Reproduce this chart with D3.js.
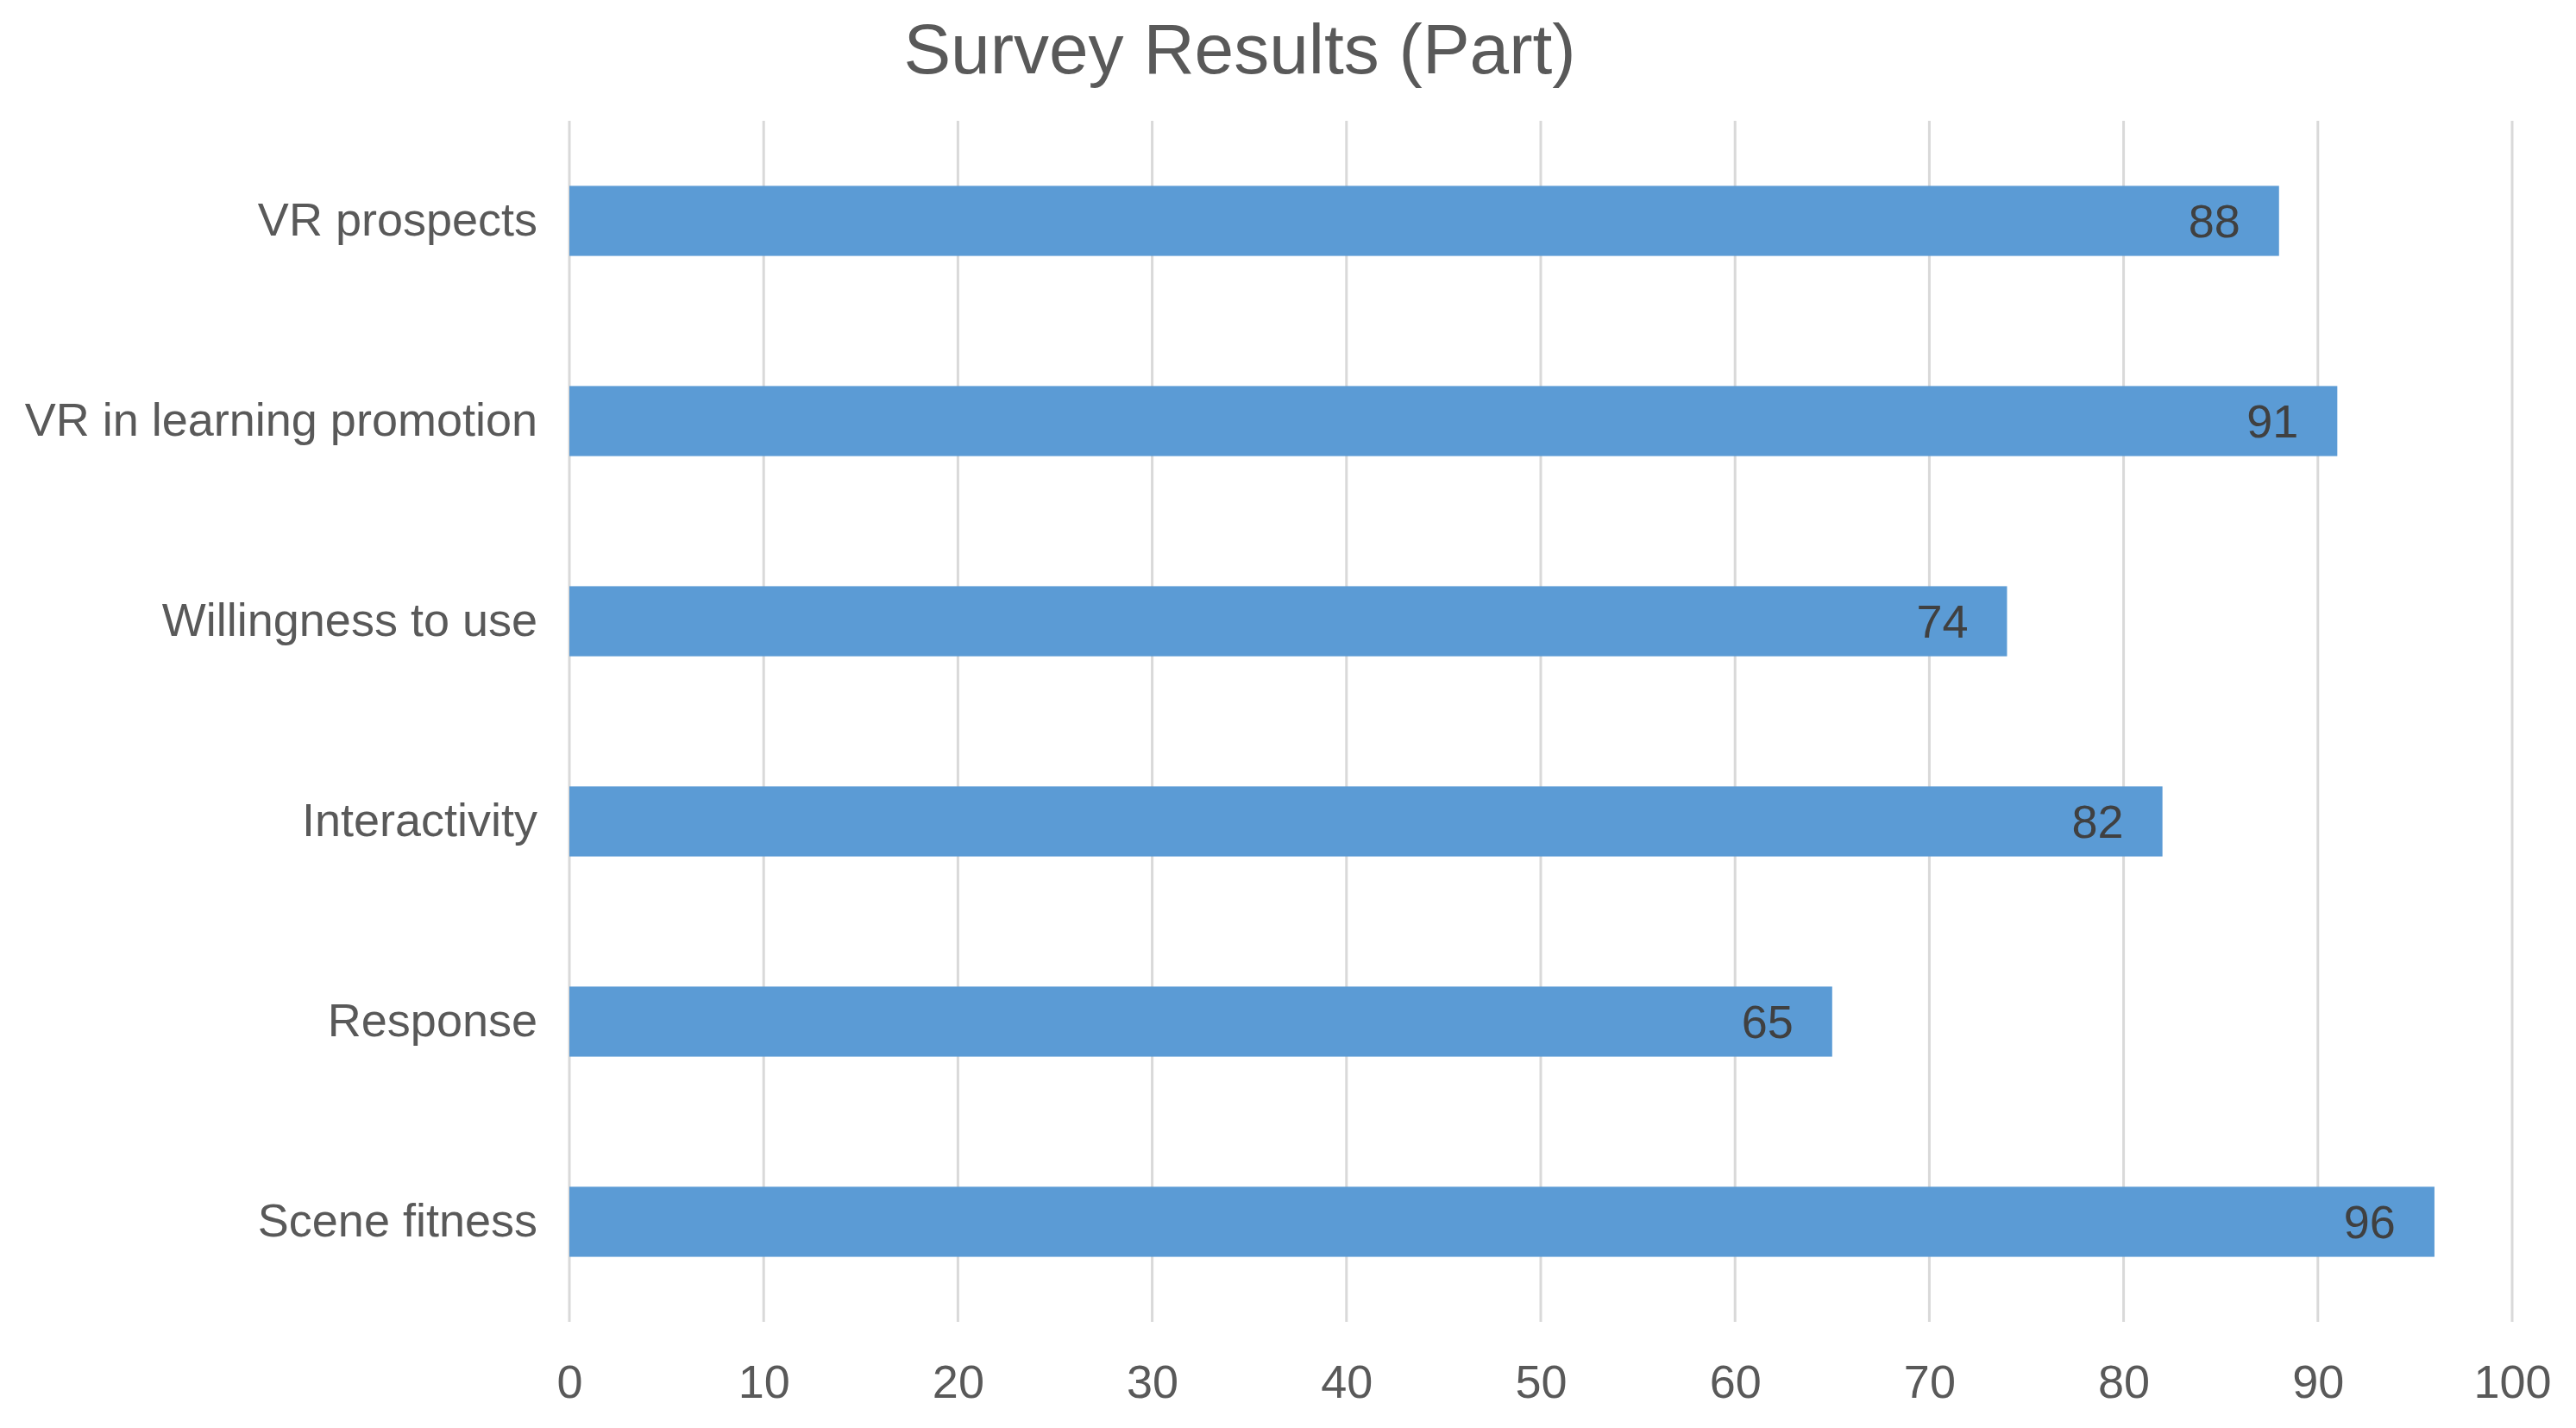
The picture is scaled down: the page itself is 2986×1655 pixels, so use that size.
<!DOCTYPE html>
<html>
<head>
<meta charset="utf-8">
<script src="https://cdn.jsdelivr.net/npm/d3@7"></script>
<style>
  body { margin: 0; background: #fff; }
  text { font-family: "Liberation Sans", Arial, sans-serif; }
</style>
</head>
<body>
<div id="chart"></div>
<script>
// Survey data, top to bottom
const categories = ["VR prospects", "VR in learning promotion", "Willingness to use", "Interactivity", "Response", "Scene fitness"];
const scores = [88, 91, 74, 82, 65, 96];
const tickValues = [0, 10, 20, 30, 40, 50, 60, 70, 80, 90, 100];

let WIDTH = 2986,
    HEIGHT = 1655;

// plot area bounds
const LEFT = 660, RIGHT = 2912, TOP = 140, BOTTOM = 1532;

let svg = d3.select("#chart")
    .append("svg")
    .attr("width", WIDTH)
    .attr("height", HEIGHT);

let xScale = d3.scaleLinear().domain([0, 100]).range([LEFT, RIGHT]);
let yScale = d3.scaleBand()
    .domain(categories)
    .range([TOP, BOTTOM])
    .paddingInner(0.65)
    .paddingOuter(0.325);

// title
svg.append("text")
    .attr("x", 1437)
    .attr("y", 85)
    .attr("text-anchor", "middle")
    .attr("font-size", 82)
    .attr("fill", "#595959")
    .text("Survey Results (Part)");

// vertical gridlines
svg.append("g")
    .selectAll("line")
    .data(tickValues)
    .enter()
    .append("line")
    .attr("x1", d => xScale(d))
    .attr("x2", d => xScale(d))
    .attr("y1", TOP)
    .attr("y2", BOTTOM)
    .attr("stroke", "#d9d9d9")
    .attr("stroke-width", 3);

// x axis labels
let xAxis = svg.append("g")
    .attr("transform", `translate(0, ${BOTTOM})`)
    .call(d3.axisBottom(xScale).tickValues(tickValues).tickSize(0).tickPadding(50));
xAxis.select(".domain").remove();
xAxis.selectAll("text")
    .attr("font-size", 54)
    .attr("fill", "#595959")
    .attr("font-family", "Liberation Sans, Arial, sans-serif");

// category labels
let yAxis = svg.append("g")
    .attr("transform", `translate(${LEFT}, 0)`)
    .call(d3.axisLeft(yScale).tickSize(0).tickPadding(37));
yAxis.select(".domain").remove();
yAxis.selectAll("text")
    .attr("font-size", 54)
    .attr("fill", "#595959")
    .attr("font-family", "Liberation Sans, Arial, sans-serif");

// bars
svg.append("g")
    .selectAll("rect")
    .data(scores)
    .enter()
    .append("rect")
    .attr("x", xScale(0))
    .attr("y", (d, i) => yScale(categories[i]))
    .attr("width", d => xScale(d) - xScale(0))
    .attr("height", yScale.bandwidth())
    .attr("fill", "#5b9bd5");

// value labels inside bar ends
svg.append("g")
    .selectAll("text")
    .data(scores)
    .enter()
    .append("text")
    .attr("x", d => xScale(d) - 45)
    .attr("y", (d, i) => yScale(categories[i]) + yScale.bandwidth() / 2)
    .attr("dy", "0.35em")
    .attr("text-anchor", "end")
    .attr("font-size", 54)
    .attr("fill", "#404040")
    .text(d => d);
</script>
</body>
</html>
